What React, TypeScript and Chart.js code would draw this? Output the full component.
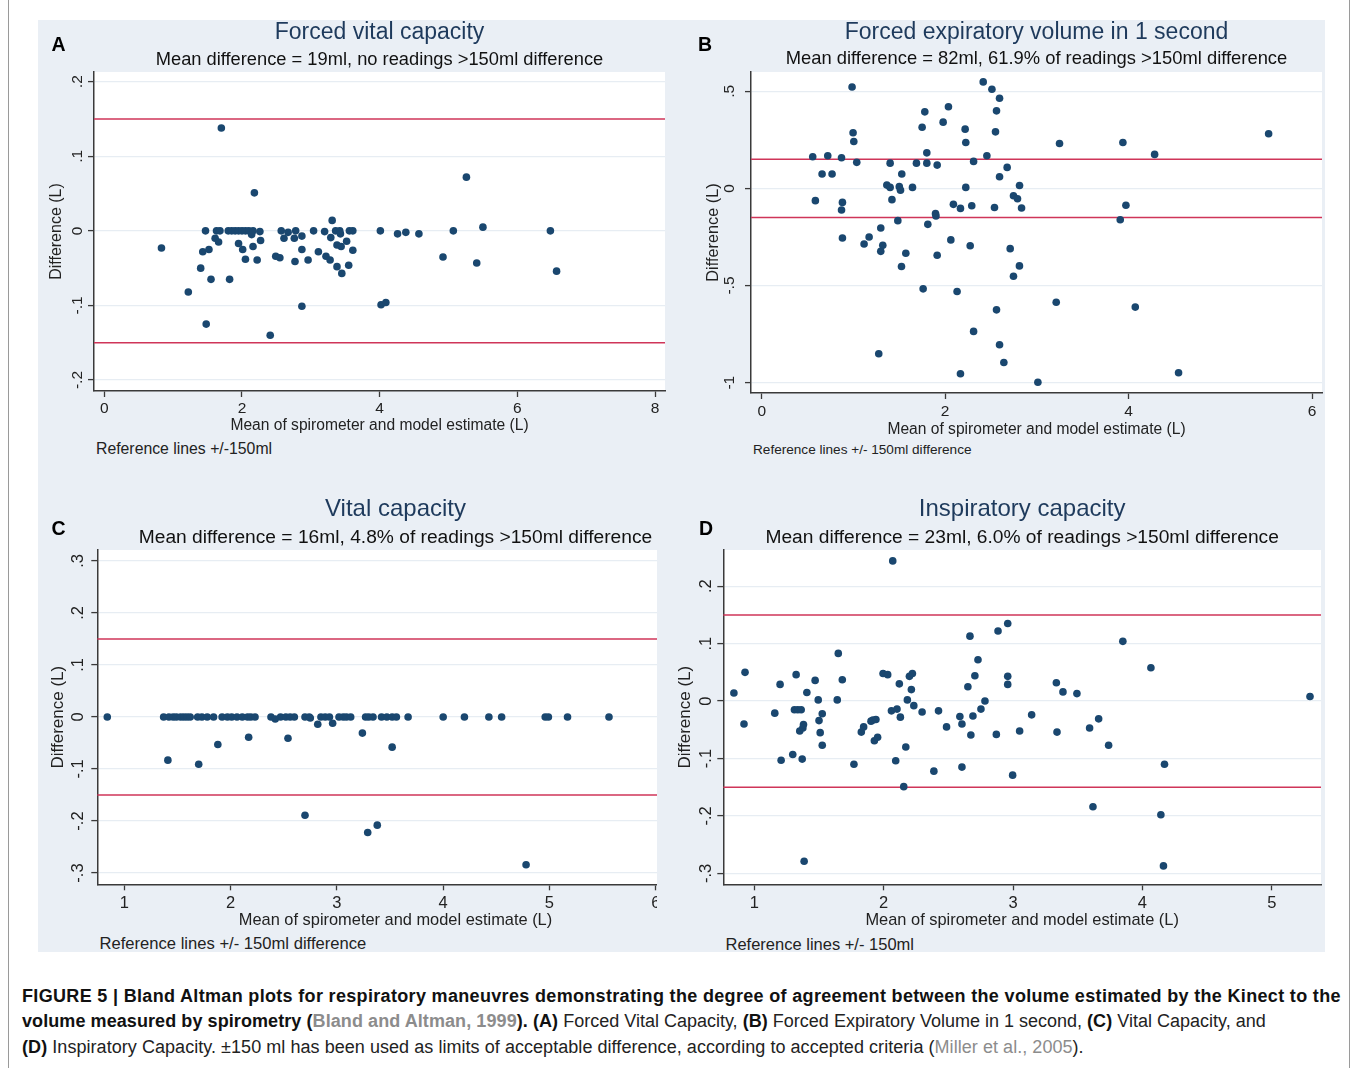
import React, { useEffect, useRef } from 'react';
import { Chart, registerables } from 'chart.js';

Chart.register(...registerables);

const FONT = '"Liberation Sans", Arial, Helvetica, sans-serif';
const NAVY = '#1a476f';
const RED = '#cf3559';
const AXIS = '#3a3a3a';
const GRID = '#e7edf3';
const PANEL_BG = '#eaeff5';
const TITLE_COLOR = '#1e3a5c';

// ---------- Panel A: Forced vital capacity ----------
const fvcMean = [0.83, 1.22, 1.40, 1.43, 1.47, 1.48, 1.52, 1.55, 1.61, 1.63, 1.66, 1.68, 1.70, 1.80, 1.82, 1.85, 1.90, 1.95, 1.95, 2.00, 2.01, 2.05, 2.05, 2.10, 2.14, 2.16, 2.16, 2.18, 2.22, 2.26, 2.27, 2.41, 2.49, 2.55, 2.57, 2.61, 2.67, 2.76, 2.77, 2.78, 2.87, 2.87, 2.87, 2.96, 3.04, 3.11, 3.20, 3.22, 3.28, 3.29, 3.31, 3.36, 3.38, 3.38, 3.42, 3.43, 3.44, 3.45, 3.52, 3.55, 3.56, 3.61, 3.61, 4.01, 4.02, 4.09, 4.26, 4.38, 4.57, 4.92, 5.07, 5.26, 5.41, 5.50, 6.48, 6.57];
const fvcDiff = [-0.023, -0.082, -0.050, -0.028, 0, -0.125, -0.025, -0.065, -0.010, 0, -0.015, 0, 0.138, 0, -0.065, 0, 0, 0, -0.017, 0, -0.025, 0, -0.038, 0, -0.005, 0, -0.021, 0.051, -0.039, -0.001, -0.013, -0.140, -0.034, -0.036, 0, -0.010, -0.002, -0.010, -0.041, 0, -0.007, -0.025, -0.101, -0.039, 0, -0.028, -0.001, -0.034, -0.039, -0.009, 0.014, 0, -0.048, -0.019, 0, -0.004, -0.021, -0.057, -0.014, -0.046, 0, 0, -0.026, 0, -0.099, -0.096, -0.004, -0.002, -0.004, -0.035, 0, 0.072, -0.043, 0.005, 0, -0.054];
const fvcXTicks = [0, 2, 4, 6, 8];
const fvcYTicks = [-0.2, -0.1, 0, 0.1, 0.2];
const fvcYTickLabels = ['-.2', '-.1', '0', '.1', '.2'];

// ---------- Panel B: Forced expiratory volume in 1 second ----------
const fevMean = [0.556, 0.585, 0.658, 0.72, 0.767, 0.87, 0.87, 0.88, 0.88, 0.985, 0.996, 1.004, 1.036, 1.116, 1.171, 1.276, 1.298, 1.298, 1.32, 1.364, 1.40, 1.40, 1.42, 1.484, 1.50, 1.513, 1.524, 1.527, 1.571, 1.644, 1.687, 1.749, 1.76, 1.778, 1.80, 1.80, 1.811, 1.895, 1.90, 1.913, 1.913, 1.978, 2.036, 2.062, 2.09, 2.13, 2.167, 2.167, 2.218, 2.225, 2.225, 2.273, 2.29, 2.31, 2.31, 2.415, 2.455, 2.51, 2.538, 2.549, 2.56, 2.56, 2.593, 2.593, 2.593, 2.64, 2.676, 2.709, 2.745, 2.745, 2.789, 2.81, 2.811, 2.833, 3.011, 3.211, 3.247, 3.909, 3.938, 3.971, 4.073, 4.284, 4.545, 5.527];
const fevDiff = [0.163, -0.063, 0.074, 0.168, 0.074, 0.158, -0.111, -0.072, -0.255, 0.522, 0.286, 0.241, 0.134, -0.286, -0.250, -0.851, -0.204, -0.324, -0.293, 0.017, 0.130, 0.005, -0.058, -0.166, 0.009, -0.009, -0.402, 0.074, -0.334, 0.005, 0.130, 0.315, -0.517, 0.394, 0.183, 0.130, -0.185, -0.130, -0.142, 0.120, -0.344, 0.341, 0.420, -0.265, -0.082, -0.531, -0.103, -0.954, 0.305, 0.236, 0.005, -0.295, -0.089, 0.139, -0.736, 0.548, 0.168, 0.510, -0.098, 0.291, 0.399, -0.625, 0.464, 0.060, -0.805, -0.896, 0.108, -0.310, -0.038, -0.452, -0.053, -0.399, 0.015, -0.101, -0.998, -0.586, 0.231, -0.161, 0.236, -0.087, -0.611, 0.175, -0.949, 0.281];
const fevXTicks = [0, 2, 4, 6];
const fevYTicks = [-1, -0.5, 0, 0.5];
const fevYTickLabels = ['-1', '-.5', '0', '.5'];

// ---------- Panel C: Vital capacity ----------
const vcMean = [0.84, 1.37, 1.42, 1.46, 1.49, 1.53, 1.56, 1.59, 1.62, 1.69, 1.73, 1.78, 1.84, 1.92, 1.97, 2.01, 2.06, 2.11, 2.16, 2.19, 2.23, 2.38, 2.47, 2.52, 2.56, 2.60, 2.70, 2.74, 2.85, 2.89, 2.93, 3.02, 3.06, 3.09, 3.13, 3.27, 3.30, 3.34, 3.42, 3.47, 3.52, 3.56, 3.67, 4.00, 4.20, 4.43, 4.55, 4.96, 4.99, 5.17, 5.56, 2.42, 2.75, 2.82, 2.96, 1.41, 1.70, 1.88, 2.17, 2.54, 3.24, 3.52, 2.70, 3.29, 3.38, 4.78];
const vcDiff = [0, 0, 0, 0, 0, 0, 0, 0, 0, 0, 0, 0, 0, 0, 0, 0, 0, 0, 0, 0, 0, 0, 0, 0, 0, 0, 0, 0, 0, 0, 0, 0, 0, 0, 0, 0, 0, 0, 0, 0, 0, 0, 0, 0, 0, 0, 0, 0, 0, 0, 0, -0.004, -0.002, -0.014, -0.012, -0.083, -0.091, -0.053, -0.039, -0.041, -0.031, -0.058, -0.189, -0.222, -0.208, -0.284];
const vcXTicks = [1, 2, 3, 4, 5, 6];
const vcYTicks = [-0.3, -0.2, -0.1, 0, 0.1, 0.2, 0.3];
const vcYTickLabels = ['-.3', '-.2', '-.1', '0', '.1', '.2', '.3'];

// ---------- Panel D: Inspiratory capacity ----------
const icMean = [0.842, 0.92, 0.928, 1.158, 1.199, 1.207, 1.297, 1.31, 1.323, 1.336, 1.351, 1.362, 1.37, 1.375, 1.38, 1.385, 1.406, 1.47, 1.494, 1.50, 1.509, 1.525, 1.525, 1.641, 1.649, 1.68, 1.77, 1.827, 1.845, 1.902, 1.917, 1.928, 1.94, 1.953, 1.995, 2.031, 2.06, 2.07, 2.093, 2.103, 2.121, 2.129, 2.155, 2.171, 2.183, 2.199, 2.214, 2.222, 2.233, 2.297, 2.388, 2.424, 2.486, 2.589, 2.605, 2.605, 2.651, 2.667, 2.674, 2.69, 2.705, 2.729, 2.752, 2.783, 2.871, 2.884, 2.959, 2.959, 2.959, 2.997, 3.051, 3.144, 3.335, 3.34, 3.386, 3.494, 3.592, 3.618, 3.662, 3.739, 3.849, 4.066, 4.143, 4.163, 4.171, 5.296];
const icDiff = [0.014, -0.040, 0.050, -0.021, 0.029, -0.103, -0.093, -0.015, 0.046, -0.015, -0.052, -0.015, -0.101, -0.047, -0.041, -0.279, 0.015, 0.036, 0.002, -0.034, -0.055, -0.022, -0.077, 0.002, 0.083, 0.037, -0.110, -0.054, -0.045, -0.035, -0.033, -0.069, -0.032, -0.063, 0.048, 0.046, -0.017, 0.244, -0.104, -0.014, 0.030, -0.028, -0.149, -0.080, 0.002, 0.043, 0.020, 0.048, -0.008, -0.019, -0.122, -0.017, -0.045, -0.027, -0.040, -0.115, 0.025, 0.113, -0.059, -0.026, 0.044, 0.072, -0.014, 0.0, -0.058, 0.122, 0.135, 0.043, 0.029, -0.129, -0.052, -0.024, 0.032, -0.054, 0.016, 0.013, -0.047, -0.184, -0.031, -0.077, 0.104, 0.058, -0.198, -0.287, -0.110, 0.008];
const icXTicks = [1, 2, 3, 4, 5];
const icYTicks = [-0.3, -0.2, -0.1, 0, 0.1, 0.2];
const icYTickLabels = ['-.3', '-.2', '-.1', '0', '.1', '.2'];

const refLimits = [-0.15, 0.15];

const X_TITLE = 'Mean of spirometer and model estimate (L)';
const Y_TITLE = 'Difference (L)';

type PanelCfg = {
  title: string;
  subtitle: string;
  xs: number[];
  ys: number[];
  xTicks: number[];
  yTicks: number[];
  yTickLabels: string[];
  xMin: number; xMax: number; yMin: number; yMax: number;
  left: number; top: number; width: number; height: number;
  clipWidth?: number;
  padRight: number;
  yAxisW: number; xAxisH: number;
  titleSize: number; titlePadTop: number; titlePadBottom: number;
  subSize: number; subPadBottom: number;
  yTitleSize: number; yTitlePad: number; yTickOffset: number;
  tickSize: number; xTickPad: number;
  xTitleSize: number; xTitlePadBottom: number;
};

const panels: PanelCfg[] = [
  {
    title: 'Forced vital capacity',
    subtitle: 'Mean difference = 19ml, no readings >150ml difference',
    xs: fvcMean, ys: fvcDiff, xTicks: fvcXTicks, yTicks: fvcYTicks, yTickLabels: fvcYTickLabels,
    xMin: -0.15, xMax: 8.145, yMin: -0.2147, yMax: 0.213,
    left: 40, top: 15, width: 640, height: 420,
    padRight: 15, yAxisW: 54, xAxisH: 44,
    titleSize: 23, titlePadTop: 3.9, titlePadBottom: 2.5,
    subSize: 18.3, subPadBottom: 1.04,
    yTitleSize: 16, yTitlePad: 7.1, yTickOffset: 16.7,
    tickSize: 15.5, xTickPad: 2.9,
    xTitleSize: 15.6, xTitlePadBottom: 0.3,
  },
  {
    title: 'Forced expiratory volume in 1 second',
    subtitle: 'Mean difference = 82ml, 61.9% of readings >150ml difference',
    xs: fevMean, ys: fevDiff, xTicks: fevXTicks, yTicks: fevYTicks, yTickLabels: fevYTickLabels,
    xMin: -0.117, xMax: 6.109, yMin: -1.053, yMax: 0.599,
    left: 690, top: 15, width: 650, height: 425,
    padRight: 18, yAxisW: 61, xAxisH: 47,
    titleSize: 23, titlePadTop: 3.6, titlePadBottom: 2.18,
    subSize: 18.36, subPadBottom: 1.59,
    yTitleSize: 16.3, yTitlePad: 14.2, yTickOffset: 21,
    tickSize: 15.5, xTickPad: 3.9,
    xTitleSize: 15.6, xTitlePadBottom: 1.0,
  },
  {
    title: 'Vital capacity',
    subtitle: 'Mean difference = 16ml, 4.8% of readings >150ml difference',
    xs: vcMean, ys: vcDiff, xTicks: vcXTicks, yTicks: vcYTicks, yTickLabels: vcYTickLabels,
    xMin: 0.746, xMax: 6.357, yMin: -0.3217, yMax: 0.321,
    left: 40, top: 490, width: 700, height: 442, clipWidth: 617,
    padRight: 46.3, yAxisW: 57.3, xAxisH: 47.7,
    titleSize: 24, titlePadTop: 4.8, titlePadBottom: 2.3,
    subSize: 19.2, subPadBottom: 1.06,
    yTitleSize: 17, yTitlePad: 8.1, yTickOffset: 19,
    tickSize: 16.5, xTickPad: 3.6,
    xTitleSize: 16.4, xTitlePadBottom: 1.2,
  },
  {
    title: 'Inspiratory capacity',
    subtitle: 'Mean difference = 23ml, 6.0% of readings >150ml difference',
    xs: icMean, ys: icDiff, xTicks: icXTicks, yTicks: icYTicks, yTickLabels: icYTickLabels,
    xMin: 0.76, xMax: 5.381, yMin: -0.319, yMax: 0.263,
    left: 670, top: 490, width: 670, height: 442,
    padRight: 19, yAxisW: 53.3, xAxisH: 47.7,
    titleSize: 24, titlePadTop: 4.8, titlePadBottom: 2.3,
    subSize: 19.2, subPadBottom: 1.06,
    yTitleSize: 17, yTitlePad: 4.8, yTickOffset: 16.6,
    tickSize: 16.5, xTickPad: 3.6,
    xTitleSize: 16.4, xTitlePadBottom: 1.2,
  },
];

const plotBgPlugin = {
  id: 'plotBg',
  beforeDraw(chart: any) {
    const { ctx, chartArea } = chart;
    ctx.save();
    ctx.fillStyle = '#ffffff';
    ctx.fillRect(chartArea.left, chartArea.top, chartArea.right - chartArea.left, chartArea.bottom - chartArea.top);
    ctx.restore();
  },
};

const refLinePlugin = {
  id: 'refLines',
  beforeDatasetsDraw(chart: any) {
    const { ctx, chartArea, scales } = chart;
    ctx.save();
    ctx.strokeStyle = RED;
    ctx.lineWidth = 1.5;
    refLimits.forEach((v) => {
      const y = scales.y.getPixelForValue(v);
      ctx.beginPath();
      ctx.moveTo(chartArea.left, y);
      ctx.lineTo(chartArea.right, y);
      ctx.stroke();
    });
    ctx.restore();
  },
};

function makeYLabelPlugin(cfg: PanelCfg) {
  return {
    id: 'yLabels',
    afterDraw(chart: any) {
      const { ctx, chartArea, scales } = chart;
      ctx.save();
      ctx.fillStyle = '#222';
      ctx.font = `${cfg.tickSize}px ${FONT}`;
      ctx.textAlign = 'center';
      ctx.textBaseline = 'middle';
      cfg.yTicks.forEach((v, i) => {
        const y = scales.y.getPixelForValue(v);
        ctx.save();
        ctx.translate(chartArea.left - cfg.yTickOffset, y);
        ctx.rotate(-Math.PI / 2);
        ctx.fillText(cfg.yTickLabels[i], 0, 0);
        ctx.restore();
      });
      ctx.restore();
    },
  };
}

function Panel({ cfg }: { cfg: PanelCfg }) {
  const ref = useRef<HTMLCanvasElement>(null);
  useEffect(() => {
    if (!ref.current) return;
    const points = cfg.xs.map((x, i) => ({ x, y: cfg.ys[i] }));
    const chart = new Chart(ref.current, {
      type: 'scatter',
      data: {
        datasets: [
          {
            data: points,
            pointRadius: 3.8,
            pointHoverRadius: 3.8,
            pointBackgroundColor: NAVY,
            pointBorderColor: NAVY,
            pointBorderWidth: 0,
          },
        ],
      },
      options: {
        responsive: false,
        animation: false,
        events: [],
        layout: { padding: { left: 0, right: cfg.padRight, top: 0, bottom: 0 } },
        plugins: {
          legend: { display: false },
          tooltip: { enabled: false },
          title: {
            display: true,
            text: cfg.title,
            fullSize: false,
            color: TITLE_COLOR,
            font: { family: FONT, size: cfg.titleSize, weight: 'normal', lineHeight: 1.2 },
            padding: { top: cfg.titlePadTop, bottom: cfg.titlePadBottom },
          },
          subtitle: {
            display: true,
            text: cfg.subtitle,
            fullSize: false,
            color: '#111111',
            font: { family: FONT, size: cfg.subSize, weight: 'normal', lineHeight: 1.2 },
            padding: { top: 0, bottom: cfg.subPadBottom },
          },
        },
        scales: {
          x: {
            type: 'linear',
            min: cfg.xMin,
            max: cfg.xMax,
            afterBuildTicks: (s: any) => {
              s.ticks = cfg.xTicks.map((v) => ({ value: v }));
            },
            afterFit: (s: any) => {
              s.height = cfg.xAxisH;
            },
            grid: { drawOnChartArea: false, drawTicks: true, tickLength: 6, tickColor: AXIS, tickWidth: 1.3 },
            border: { display: true, color: AXIS, width: 1.5 },
            ticks: {
              color: '#222',
              font: { family: FONT, size: cfg.tickSize },
              padding: cfg.xTickPad,
              maxRotation: 0,
              minRotation: 0,
              autoSkip: false,
              includeBounds: false,
              callback: (v: any) => String(v),
            },
            title: {
              display: true,
              text: X_TITLE,
              color: '#222',
              font: { family: FONT, size: cfg.xTitleSize, lineHeight: 1.2 },
              padding: { top: 0, bottom: cfg.xTitlePadBottom },
            },
          },
          y: {
            type: 'linear',
            min: cfg.yMin,
            max: cfg.yMax,
            afterBuildTicks: (s: any) => {
              s.ticks = cfg.yTicks.map((v) => ({ value: v }));
            },
            afterFit: (s: any) => {
              s.width = cfg.yAxisW;
            },
            grid: { drawOnChartArea: true, color: GRID, lineWidth: 1.2, drawTicks: true, tickLength: 6, tickColor: AXIS, tickWidth: 1.3 },
            border: { display: true, color: AXIS, width: 1.5 },
            ticks: { display: false, includeBounds: false },
            title: {
              display: true,
              text: Y_TITLE,
              color: '#222',
              font: { family: FONT, size: cfg.yTitleSize, lineHeight: 1.2 },
              padding: { top: cfg.yTitlePad, bottom: 0 },
            },
          },
        },
      } as any,
      plugins: [plotBgPlugin, refLinePlugin, makeYLabelPlugin(cfg)],
    });
    return () => chart.destroy();
  }, [cfg]);

  const canvas = (
    <canvas
      ref={ref}
      width={cfg.width}
      height={cfg.height}
      style={{ position: 'absolute', left: cfg.clipWidth ? 0 : cfg.left, top: cfg.clipWidth ? 0 : cfg.top, width: cfg.width, height: cfg.height }}
    />
  );
  if (cfg.clipWidth) {
    return (
      <div style={{ position: 'absolute', left: cfg.left, top: cfg.top, width: cfg.clipWidth, height: cfg.height, overflow: 'hidden' }}>
        {canvas}
      </div>
    );
  }
  return canvas;
}

function Txt({ left, cy, size, bold, children, color, spacing }: any) {
  const lh = Math.round(size * 1.3);
  return (
    <div
      style={{
        position: 'absolute',
        left,
        top: cy - lh / 2,
        height: lh,
        lineHeight: `${lh}px`,
        fontSize: size,
        fontFamily: FONT,
        fontWeight: bold ? 'bold' : 'normal',
        color: color || '#222',
        whiteSpace: 'nowrap',
        letterSpacing: spacing || 0,
      }}
    >
      {children}
    </div>
  );
}

const letters = [
  { t: 'A', left: 51.5, cy: 44.3 },
  { t: 'B', left: 698, cy: 44 },
  { t: 'C', left: 51.5, cy: 528.3 },
  { t: 'D', left: 699, cy: 528.3 },
];

const notes = [
  { t: 'Reference lines +/-150ml', left: 96, cy: 448, size: 15.8 },
  { t: 'Reference lines +/- 150ml difference', left: 753, cy: 450, size: 13.6 },
  { t: 'Reference lines +/- 150ml difference', left: 99.5, cy: 944.3, size: 16.6 },
  { t: 'Reference lines +/- 150ml', left: 725.5, cy: 944.3, size: 16.5 },
];

const GRAY = '#8c8c8c';
const BOLD_SP = '0.33px';

export default function App() {
  const capSize = 18;
  const B = ({ children, color }: any) => (
    <b style={{ color: color || '#111', letterSpacing: '0.08px' }}>{children}</b>
  );
  return (
    <div style={{ position: 'absolute', left: 0, top: 0, width: 1357, height: 1068, background: '#ffffff', overflow: 'hidden' }}>
      <div style={{ position: 'absolute', left: 8, top: 0, width: 1340, height: 1068, borderLeft: '1px solid #9a9a9a', borderRight: '1px solid #9a9a9a' }} />
      <div style={{ position: 'absolute', left: 38, top: 20, width: 1287, height: 932, background: PANEL_BG }} />
      {panels.map((p, i) => (
        <Panel key={i} cfg={p} />
      ))}
      {letters.map((l) => (
        <Txt key={l.t} left={l.left} cy={l.cy} size={19.5} bold color="#000">
          {l.t}
        </Txt>
      ))}
      {notes.map((n, i) => (
        <Txt key={i} left={n.left} cy={n.cy} size={n.size} color="#222">
          {n.t}
        </Txt>
      ))}
      <Txt left={22} cy={996} size={capSize} bold color="#111" spacing={BOLD_SP}>
        FIGURE 5 | Bland Altman plots for respiratory maneuvres demonstrating the degree of agreement between the volume estimated by the Kinect to the
      </Txt>
      <Txt left={22} cy={1021} size={capSize} color="#222">
        <B>volume measured by spirometry (</B>
        <B color={GRAY}>Bland and Altman, 1999</B>
        <B>). (A)</B> Forced Vital Capacity, <B>(B)</B> Forced Expiratory Volume in 1 second, <B>(C)</B> Vital Capacity, and
      </Txt>
      <Txt left={22} cy={1047} size={capSize} color="#222" spacing="0.05px">
        <B>(D)</B> Inspiratory Capacity. ±150 ml has been used as limits of acceptable difference, according to accepted criteria (
        <span style={{ color: GRAY }}>Miller et al., 2005</span>).
      </Txt>
    </div>
  );
}
